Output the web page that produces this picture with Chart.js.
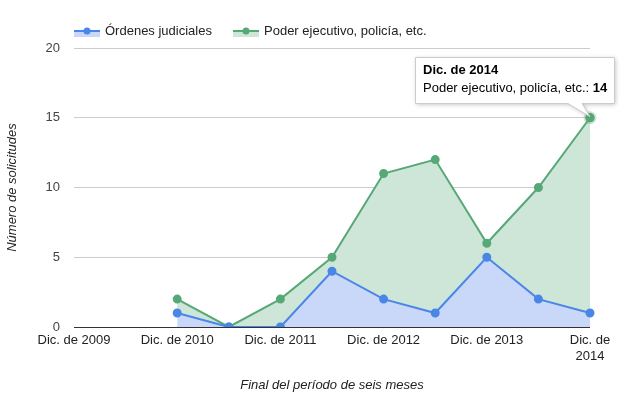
<!DOCTYPE html>
<html>
<head>
<meta charset="utf-8">
<script src="https://cdn.jsdelivr.net/npm/chart.js@4/dist/chart.umd.min.js"></script>
<style>
html,body{margin:0;padding:0;background:#fff;}
#wrap{width:642px;height:408px;position:relative;}
</style>
</head>
<body>
<div id="wrap"><canvas id="c" width="642" height="408"></canvas></div>
<script>
const categories = ['Dic. de 2009','Jun. de 2010','Dic. de 2010','Jun. de 2011','Dic. de 2011','Jun. de 2012','Dic. de 2012','Jun. de 2013','Dic. de 2013','Jun. de 2014','Dic. de 2014'];
const ordenesJudiciales = [null,null,1,0,0,4,2,1,5,2,1];
const poderEjecutivo = [null,null,1,0,2,1,9,11,1,8,14];
const yTicks = [0,5,10,15,20];
const seriesNames = ['Órdenes judiciales','Poder ejecutivo, policía, etc.'];
const tooltipIndex = 10;

const FONT = '"Liberation Sans", Arial, sans-serif';
const BLUE = '#4a86e8', BLUE_FILL = '#c9d8f8';
const GREEN = '#57a877', GREEN_FILL = '#cde6d8';

const customPlugin = {
  id: 'custom',
  beforeDatasetsDraw(chart) {},
  afterDatasetsDraw(chart) {
    const ctx = chart.ctx;
    // zero baseline
    const ys = chart.scales.y, ca = chart.chartArea;
    const y0 = ys.getPixelForValue(0);
    ctx.save();
    ctx.strokeStyle = '#333'; ctx.lineWidth = 1;
    ctx.beginPath(); ctx.moveTo(ca.left, Math.round(y0)+0.5); ctx.lineTo(ca.right, Math.round(y0)+0.5); ctx.stroke();
    ctx.restore();
  },
  afterDraw(chart) {
    const ctx = chart.ctx;
    // legend
    ctx.save();
    ctx.font = '13px ' + FONT;
    ctx.textBaseline = 'middle';
    const items = [
      {label: chart.data.datasets[0].label, line: BLUE, fill: BLUE_FILL, x: 74},
      {label: chart.data.datasets[1].label, line: GREEN, fill: GREEN_FILL, x: 233}
    ];
    const ly = 31;
    items.forEach(it => {
      ctx.fillStyle = it.fill;
      ctx.fillRect(it.x, ly, 26, 6);
      ctx.strokeStyle = it.line; ctx.lineWidth = 2;
      ctx.beginPath(); ctx.moveTo(it.x, ly); ctx.lineTo(it.x+26, ly); ctx.stroke();
      ctx.fillStyle = it.line;
      ctx.beginPath(); ctx.arc(it.x+13, ly, 3.5, 0, Math.PI*2); ctx.fill();
      ctx.fillStyle = '#222';
      ctx.fillText(it.label, it.x + 31, ly);
    });
    ctx.restore();

    // tooltip
    const meta = chart.getDatasetMeta(1);
    const pt = meta.data[tooltipIndex];
    const px = pt.x, py = pt.y;
    ctx.save();
    // halo
    ctx.fillStyle = 'rgba(87,168,119,0.3)';
    ctx.beginPath(); ctx.arc(px, py, 6.5, 0, Math.PI*2); ctx.fill();
    ctx.fillStyle = GREEN;
    ctx.beginPath(); ctx.arc(px, py, 4.5, 0, Math.PI*2); ctx.fill();

    const bx = 415, by = 57, bw = 199, bh = 46;
    const cx1 = 568, cx2 = 582;
    ctx.shadowColor = 'rgba(0,0,0,0.25)';
    ctx.shadowBlur = 4; ctx.shadowOffsetX = 1; ctx.shadowOffsetY = 1;
    ctx.fillStyle = '#fff';
    ctx.strokeStyle = '#ccc'; ctx.lineWidth = 1;
    ctx.beginPath();
    ctx.moveTo(bx+0.5, by+0.5);
    ctx.lineTo(bx+bw+0.5, by+0.5);
    ctx.lineTo(bx+bw+0.5, by+bh+0.5);
    ctx.lineTo(cx2, by+bh+0.5);
    ctx.lineTo(px, py-1);
    ctx.lineTo(cx1, by+bh+0.5);
    ctx.lineTo(bx+0.5, by+bh+0.5);
    ctx.closePath();
    ctx.fill();
    ctx.shadowColor = 'transparent';
    ctx.stroke();
    ctx.textBaseline = 'alphabetic';
    ctx.fillStyle = '#000';
    ctx.font = 'bold 13px ' + FONT;
    ctx.fillText(categories[tooltipIndex], bx + 8, by + 17);
    ctx.font = '13px ' + FONT;
    const bodyLabel = chart.data.datasets[1].label + ': ';
    ctx.fillText(bodyLabel, bx + 8, by + 35);
    const w = ctx.measureText(bodyLabel).width;
    ctx.font = 'bold 13px ' + FONT;
    ctx.fillText(String(poderEjecutivo[tooltipIndex]), bx + 8 + w, by + 35);
    ctx.restore();
  }
};

new Chart(document.getElementById('c'), {
  type: 'line',
  data: {
    labels: categories,
    datasets: [
      {label: seriesNames[0], data: ordenesJudiciales, borderColor: BLUE, backgroundColor: BLUE_FILL,
       pointBackgroundColor: BLUE, pointBorderColor: BLUE, fill: 'origin', borderWidth: 2, pointRadius: 3.5, tension: 0},
      {label: seriesNames[1], data: poderEjecutivo, borderColor: GREEN, backgroundColor: GREEN_FILL,
       pointBackgroundColor: GREEN, pointBorderColor: GREEN, fill: '-1', borderWidth: 2, pointRadius: 3.5, tension: 0}
    ]
  },
  options: {
    responsive: false,
    animation: false,
    events: [],
    layout: {padding: {left: 0, right: 52, top: 48, bottom: 11}},
    plugins: {legend: {display: false}, tooltip: {enabled: false}},
    scales: {
      x: {
        offset: false,
        grid: {display: false, drawTicks: false},
        border: {display: false},
        ticks: {
          autoSkip: false, maxRotation: 0, minRotation: 0, padding: 6,
          color: '#222', font: {family: FONT, size: 13},
          callback: function(v, i) {
            if (i % 2 !== 0) return '';
            const l = categories[i];
            if (i === categories.length - 1) { const p = l.lastIndexOf(' '); return [l.slice(0, p), l.slice(p+1)]; }
            return l;
          }
        },
        title: {display: true, text: 'Final del período de seis meses', color: '#222',
                font: {family: FONT, size: 13, style: 'italic'}, padding: {top: 4, bottom: 4}},
        afterFit(s) { s.height = 408 - 327 - 11; }
      },
      y: {
        stacked: true,
        min: 0, max: 20,
        afterBuildTicks(s) { s.ticks = yTicks.map(v => ({value: v})); },
        grid: {color: '#cccccc', drawTicks: false},
        border: {display: false},
        ticks: {padding: 14, color: '#444', font: {family: FONT, size: 13}},
        title: {display: true, text: 'Número de solicitudes', color: '#222',
                font: {family: FONT, size: 13, style: 'italic'}, padding: {top: 5, bottom: 4}},
        afterFit(s) { s.width = 74; }
      }
    }
  },
  plugins: [customPlugin]
});
</script>
</body>
</html>
